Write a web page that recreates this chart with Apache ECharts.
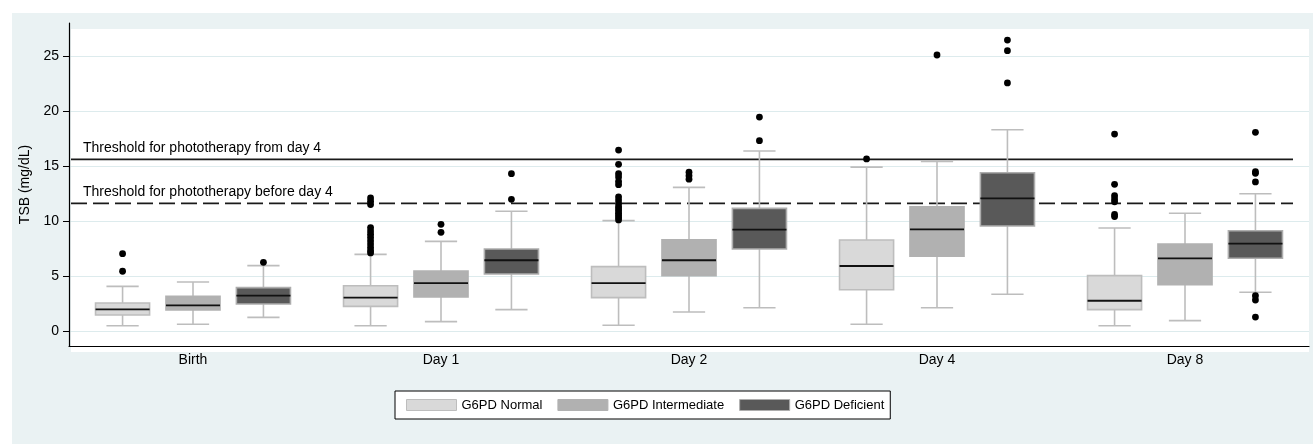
<!DOCTYPE html>
<html>
<head>
<meta charset="utf-8">
<title>TSB by G6PD status</title>
<script src="https://cdn.jsdelivr.net/npm/echarts@6/dist/echarts.min.js"></script>
<style>
  html, body { margin: 0; padding: 0; background: #fff; }
  #chart { width: 1313px; height: 444px; }
</style>
</head>
<body>
<div id="chart"></div>
<script>
// categories and groups
var CATEGORIES = ['Birth', 'Day 1', 'Day 2', 'Day 4', 'Day 8'];
var GROUPS = ['G6PD Normal', 'G6PD Intermediate', 'G6PD Deficient'];
var Y_TICKS = [0, 5, 10, 15, 20, 25];

// box values per category: [min, Q1, median, Q3, max]
var normalBox = [
    [0.48, 1.45, 1.97, 2.55, 4.06],
    [0.48, 2.24, 3.03, 4.12, 6.97],
    [0.52, 3.03, 4.36, 5.85, 10.03],
    [0.61, 3.75, 5.91, 8.27, 14.9],
    [0.48, 1.94, 2.75, 5.03, 9.36]
];
var intermediateBox = [
    [0.61, 1.91, 2.33, 3.15, 4.45],
    [0.85, 3.09, 4.36, 5.45, 8.15],
    [1.73, 5.03, 6.43, 8.3, 13.06],
    [2.12, 6.79, 9.24, 11.3, 15.42],
    [0.94, 4.21, 6.61, 7.91, 10.7]
];
var deficientBox = [
    [1.24, 2.45, 3.21, 3.94, 5.94],
    [1.94, 5.18, 6.43, 7.45, 10.88],
    [2.12, 7.45, 9.21, 11.15, 16.36],
    [3.34, 9.55, 12.06, 14.39, 18.3],
    [3.52, 6.61, 7.94, 9.12, 12.48]
];

// outside values: [category index, value]
var normalOut = [
    [0, 7.03], [0, 5.43],
    [1, 12.1], [1, 11.8], [1, 11.5], [1, 9.4], [1, 9.1], [1, 8.8], [1, 8.5], [1, 8.2],
    [1, 7.9], [1, 7.6], [1, 7.3], [1, 7.1],
    [2, 16.45], [2, 15.15], [2, 14.3], [2, 14.0], [2, 13.6], [2, 13.3], [2, 12.2], [2, 11.9],
    [2, 11.6], [2, 11.3], [2, 11.1], [2, 10.9], [2, 10.7], [2, 10.5], [2, 10.3], [2, 10.1],
    [3, 15.64],
    [4, 17.9], [4, 13.33], [4, 12.3], [4, 12.0], [4, 11.75], [4, 10.6], [4, 10.4]
];
var intermediateOut = [
    [1, 9.7], [1, 8.97],
    [2, 14.43], [2, 14.12], [2, 13.8],
    [3, 25.09]
];
var deficientOut = [
    [0, 6.24],
    [1, 14.3], [1, 11.97],
    [2, 19.45], [2, 17.3],
    [3, 26.45], [3, 25.48], [3, 22.55],
    [4, 18.06], [4, 14.48], [4, 14.33], [4, 13.55], [4, 3.21], [4, 2.82], [4, 1.27]
];

// reference lines
var THRESHOLDS = [15.6, 11.6];
var THRESHOLD_LABELS = ['Threshold for phototherapy from day 4', 'Threshold for phototherapy before day 4'];

var FONT = '"Liberation Sans", Arial, Helvetica, sans-serif';
var FILLS = ['#D9D9D9', '#B1B1B1', '#595959'];
var BORDERS = ['#BDBDBD', '#B1B1B1', '#ADADAD'];
var WHISKER = '#BDBDBD';
// position of each group inside a category band (fraction of band width)
var GROUP_OFFSET = [-0.284, 0, 0.284];
var BOX_W = 0.218;
var CAP_W = 0.13;

function boxRenderer(g) {
    return function (params, api) {
        var band = api.size([1, 0])[0];
        var cx = api.coord([api.value(0), 0])[0] + GROUP_OFFSET[g] * band;
        var yMin = api.coord([0, api.value(1)])[1];
        var yQ1 = api.coord([0, api.value(2)])[1];
        var yMed = api.coord([0, api.value(3)])[1];
        var yQ3 = api.coord([0, api.value(4)])[1];
        var yMax = api.coord([0, api.value(5)])[1];
        var hw = band * BOX_W / 2;
        var cw = band * CAP_W / 2;
        var wStyle = { stroke: WHISKER, lineWidth: 1.6 };
        return {
            type: 'group',
            children: [
                { type: 'line', shape: { x1: cx, y1: yQ1, x2: cx, y2: yMin }, style: wStyle },
                { type: 'line', shape: { x1: cx, y1: yQ3, x2: cx, y2: yMax }, style: wStyle },
                { type: 'line', shape: { x1: cx - cw, y1: yMin, x2: cx + cw, y2: yMin }, style: wStyle },
                { type: 'line', shape: { x1: cx - cw, y1: yMax, x2: cx + cw, y2: yMax }, style: wStyle },
                {
                    type: 'rect',
                    shape: { x: cx - hw, y: yQ3, width: hw * 2, height: yQ1 - yQ3 },
                    style: { fill: FILLS[g], stroke: BORDERS[g], lineWidth: 1.6 }
                },
                { type: 'line', shape: { x1: cx - hw, y1: yMed, x2: cx + hw, y2: yMed }, style: { stroke: '#111', lineWidth: 1.8 } }
            ]
        };
    };
}

function outlierRenderer(g) {
    return function (params, api) {
        var band = api.size([1, 0])[0];
        var p = api.coord([api.value(0), api.value(1)]);
        return {
            type: 'circle',
            shape: { cx: p[0] + GROUP_OFFSET[g] * band, cy: p[1], r: 3.4 },
            style: { fill: '#000' }
        };
    };
}

function thresholdRenderer(params, api) {
    var cs = params.coordSys;
    var y = api.coord([0, api.value(1)])[1];
    var dashed = params.dataIndex === 1;
    return {
        type: 'group',
        children: [
            {
                type: 'line',
                shape: { x1: cs.x + 2, y1: y, x2: cs.x + cs.width - 16, y2: y },
                style: { stroke: '#1a1a1a', lineWidth: 1.6, lineDash: dashed ? [16, 6] : null }
            },
            {
                type: 'text',
                style: {
                    x: cs.x + 14, y: y - 11, text: THRESHOLD_LABELS[params.dataIndex],
                    fill: '#000', font: '14px ' + FONT, verticalAlign: 'middle'
                }
            }
        ]
    };
}

var boxes = [normalBox, intermediateBox, deficientBox];
var outs = [normalOut, intermediateOut, deficientOut];
var series = [];
GROUPS.forEach(function (name, g) {
    series.push({
        type: 'custom',
        name: name,
        renderItem: boxRenderer(g),
        itemStyle: { color: FILLS[g] },
        encode: { x: 0, y: [1, 2, 3, 4, 5] },
        data: boxes[g].map(function (b, i) { return [i].concat(b); }),
        z: 3
    });
});
GROUPS.forEach(function (name, g) {
    series.push({
        type: 'custom',
        name: name,
        renderItem: outlierRenderer(g),
        itemStyle: { color: FILLS[g] },
        encode: { x: 0, y: 1 },
        data: outs[g],
        z: 4
    });
});
series.push({
    type: 'custom',
    name: 'thresholds',
    renderItem: thresholdRenderer,
    encode: { x: 0, y: 1 },
    data: THRESHOLDS.map(function (v) { return [0, v]; }),
    z: 2
});

var chart = echarts.init(document.getElementById('chart'));
chart.setOption({
    animation: false,
    textStyle: { fontFamily: FONT },
    graphic: [
        { type: 'rect', z: -100, shape: { x: 12, y: 13, width: 1301, height: 431 }, style: { fill: '#EAF2F3' } },
        { type: 'rect', z: -99, shape: { x: 71, y: 29, width: 1238, height: 323 }, style: { fill: '#fff' } }
    ],
    grid: { left: 69, right: 4, top: 23, bottom: 98, containLabel: false },
    legend: {
        left: 395, top: 391,
        itemWidth: 50, itemHeight: 11, itemGap: 15,
        padding: [7, 6, 7, 11],
        backgroundColor: '#fff', borderColor: '#000', borderWidth: 1,
        textStyle: { fontSize: 13, color: '#000', fontFamily: FONT, lineHeight: 14 },
        data: GROUPS.map(function (g, i) {
            return { name: g, icon: 'rect', itemStyle: { color: FILLS[i], borderColor: BORDERS[i], borderWidth: 1 } };
        })
    },
    xAxis: {
        type: 'category',
        data: CATEGORIES,
        boundaryGap: true,
        axisLine: { onZero: false, lineStyle: { color: '#000', width: 1.2 } },
        axisTick: { show: false },
        axisLabel: { fontSize: 14, color: '#000', margin: 7, fontFamily: FONT },
        splitLine: { show: false }
    },
    yAxis: {
        type: 'value',
        min: -1.3636, max: 28,
        name: 'TSB (mg/dL)',
        nameLocation: 'middle',
        nameGap: 36,
        nameTextStyle: { fontSize: 14, color: '#000', fontFamily: FONT },
        axisLine: { show: true, onZero: false, lineStyle: { color: '#000', width: 1.2 } },
        axisTick: { show: true, length: 6, customValues: Y_TICKS, lineStyle: { color: '#000' } },
        axisLabel: { fontSize: 14, color: '#000', margin: 10, customValues: Y_TICKS, fontFamily: FONT },
        splitLine: { show: true, lineStyle: { color: '#DDEBED', width: 1 } }
    },
    series: series
});
</script>
</body>
</html>
